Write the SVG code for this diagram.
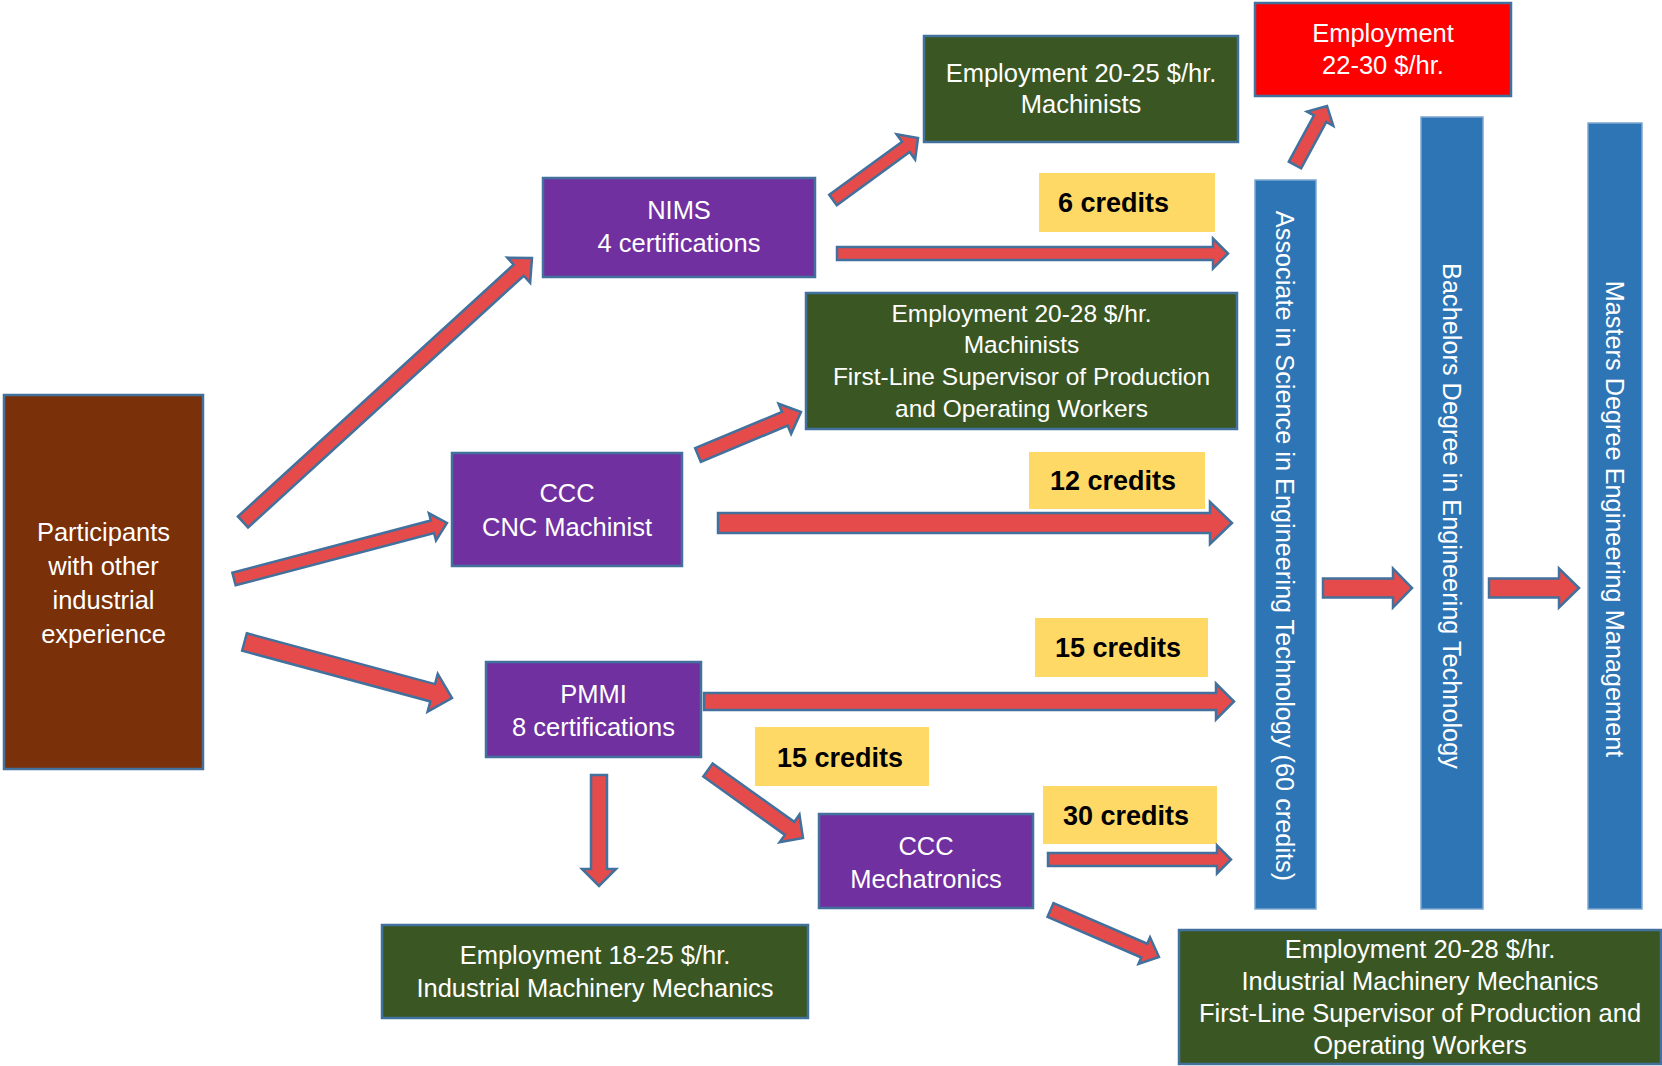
<svg xmlns="http://www.w3.org/2000/svg" width="1662" height="1066" viewBox="0 0 1662 1066">
<style>
  .box{stroke:#41719C;stroke-width:2.5}
  .brown{fill:#7A3008}
  .purple{fill:#7030A0}
  .green{fill:#3A5723}
  .red{fill:#FF0000}
  .bar{fill:#2E75B6;stroke:#7FA6CF;stroke-width:1.5}
  .label{fill:#FFD966}
  .t{font-family:"Liberation Sans",Arial,sans-serif;font-size:25.5px;fill:#FFFFFF;text-anchor:middle}
  .s{font-size:24.5px}
  .v{font-size:25.3px}
  .b{font-family:"Liberation Sans",Arial,sans-serif;font-size:27px;font-weight:bold;fill:#000000}
  .arrow{fill:#E64B4B;stroke:#41719C;stroke-width:2.5;stroke-linejoin:miter}
</style>
<rect width="1662" height="1066" fill="#FFFFFF"/>

<g id="participants">
  <rect class="box brown" x="4" y="395" width="199" height="374"/>
  <text class="t" x="103.5" y="541">Participants</text>
  <text class="t" x="103.5" y="575">with other</text>
  <text class="t" x="103.5" y="609">industrial</text>
  <text class="t" x="103.5" y="643">experience</text>
</g>

<g id="nims">
  <rect class="box purple" x="543" y="178" width="272" height="99"/>
  <text class="t" x="679" y="219">NIMS</text>
  <text class="t" x="679" y="252">4 certifications</text>
</g>

<g id="ccc-cnc">
  <rect class="box purple" x="452" y="453" width="230" height="113"/>
  <text class="t" x="567" y="502">CCC</text>
  <text class="t" x="567" y="536">CNC Machinist</text>
</g>

<g id="pmmi">
  <rect class="box purple" x="486" y="662" width="215" height="95"/>
  <text class="t" x="593.5" y="703">PMMI</text>
  <text class="t" x="593.5" y="736">8 certifications</text>
</g>

<g id="ccc-mechatronics">
  <rect class="box purple" x="819" y="814" width="214" height="94"/>
  <text class="t" x="926" y="855">CCC</text>
  <text class="t" x="926" y="888">Mechatronics</text>
</g>

<g id="emp-machinists">
  <rect class="box green" x="924" y="36" width="314" height="106"/>
  <text class="t" x="1081" y="82">Employment 20-25 $/hr.</text>
  <text class="t" x="1081" y="113">Machinists</text>
</g>

<g id="emp-machinists-supervisor">
  <rect class="box green" x="806" y="293" width="431" height="136"/>
  <text class="t s" x="1021.5" y="322">Employment 20-28 $/hr.</text>
  <text class="t s" x="1021.5" y="353">Machinists</text>
  <text class="t s" x="1021.5" y="385">First-Line Supervisor of Production</text>
  <text class="t s" x="1021.5" y="417">and Operating Workers</text>
</g>

<g id="emp-mechanics">
  <rect class="box green" x="382" y="925" width="426" height="93"/>
  <text class="t" x="595" y="964">Employment 18-25 $/hr.</text>
  <text class="t" x="595" y="997">Industrial Machinery Mechanics</text>
</g>

<g id="emp-mechanics-supervisor">
  <rect class="box green" x="1179" y="930" width="482" height="134"/>
  <text class="t" x="1420" y="958">Employment 20-28 $/hr.</text>
  <text class="t" x="1420" y="990">Industrial Machinery Mechanics</text>
  <text class="t" x="1420" y="1022">First-Line Supervisor of Production and</text>
  <text class="t" x="1420" y="1054">Operating Workers</text>
</g>

<g id="emp-associate">
  <rect class="box red" x="1255" y="3" width="256" height="93"/>
  <text class="t" x="1383" y="42">Employment</text>
  <text class="t" x="1383" y="74">22-30 $/hr.</text>
</g>

<g id="associate">
  <rect class="bar" x="1255" y="180" width="61" height="729"/>
  <text class="t v" transform="translate(1276,546) rotate(90)">Associate in Science in Engineering Technology (60 credits)</text>
</g>

<g id="bachelors">
  <rect class="bar" x="1421" y="117" width="62" height="792"/>
  <text class="t v" transform="translate(1443,516) rotate(90)">Bachelors Degree in Engineering Technology</text>
</g>

<g id="masters">
  <rect class="bar" x="1588" y="123" width="54" height="786"/>
  <text class="t v" transform="translate(1606,519) rotate(90)">Masters Degree Engineering Management</text>
</g>

<g id="label-6">
  <rect class="label" x="1039" y="173" width="176" height="59"/>
  <text class="b" x="1058" y="212">6 credits</text>
</g>
<g id="label-12">
  <rect class="label" x="1029" y="452" width="176" height="57"/>
  <text class="b" x="1050" y="490">12 credits</text>
</g>
<g id="label-15a">
  <rect class="label" x="1035" y="618" width="173" height="59"/>
  <text class="b" x="1055" y="657">15 credits</text>
</g>
<g id="label-15b">
  <rect class="label" x="755" y="727" width="174" height="59"/>
  <text class="b" x="777" y="767">15 credits</text>
</g>
<g id="label-30">
  <rect class="label" x="1043" y="786" width="174" height="58"/>
  <text class="b" x="1063" y="825">30 credits</text>
</g>

<g id="connectors">
  <polygon class="arrow" transform="translate(243,522) rotate(-42.41)" points="0,-7.5 373.4,-7.5 373.4,-17 391.4,0 373.4,17 373.4,7.5 0,7.5"/>
  <polygon class="arrow" transform="translate(234,579) rotate(-14.73)" points="0,-6.5 205.2,-6.5 205.2,-14 220.2,0 205.2,14 205.2,6.5 0,6.5"/>
  <polygon class="arrow" transform="translate(244.5,642) rotate(15.10)" points="0,-9 194.9,-9 194.9,-19.5 214.9,0 194.9,19.5 194.9,9 0,9"/>
  <polygon class="arrow" transform="translate(833,200) rotate(-36.1)" points="0,-6.4 90.2,-6.4 90.2,-15.7 105.2,0 90.2,15.7 90.2,6.4 0,6.4"/>
  <polygon class="arrow" transform="translate(837,253.5)" points="0,-6.5 376,-6.5 376,-15 391,0 376,15 376,6.5 0,6.5"/>
  <polygon class="arrow" transform="translate(698,455) rotate(-22.66)" points="0,-7.4 94.1,-7.4 94.1,-16.3 111.6,0 94.1,16.3 94.1,7.4 0,7.4"/>
  <polygon class="arrow" transform="translate(718,523)" points="0,-10 492,-10 492,-21 514,0 492,21 492,10 0,10"/>
  <polygon class="arrow" transform="translate(704,701.5)" points="0,-8.5 512,-8.5 512,-18 530,0 512,18 512,8.5 0,8.5"/>
  <polygon class="arrow" transform="translate(708,770) rotate(35.6)" points="0,-8 100.3,-8 100.3,-17 116.8,0 100.3,17 100.3,8 0,8"/>
  <polygon class="arrow" transform="translate(599,775) rotate(90)" points="0,-8 94,-8 94,-17 111,0 94,17 94,8 0,8"/>
  <polygon class="arrow" transform="translate(1048,859.5)" points="0,-6.5 169,-6.5 169,-14 183,0 169,14 169,6.5 0,6.5"/>
  <polygon class="arrow" transform="translate(1050.5,910) rotate(23.42)" points="0,-7.5 102.2,-7.5 102.2,-14.5 118.2,0 102.2,14.5 102.2,7.5 0,7.5"/>
  <polygon class="arrow" transform="translate(1295,165) rotate(-61.5)" points="0,-7 52.7,-7 52.7,-15 67.1,0 52.7,15 52.7,7 0,7"/>
  <polygon class="arrow" transform="translate(1323,588)" points="0,-9.5 70,-9.5 70,-19.5 89,0 70,19.5 70,9.5 0,9.5"/>
  <polygon class="arrow" transform="translate(1489,588)" points="0,-9.5 70,-9.5 70,-19.5 90,0 70,19.5 70,9.5 0,9.5"/>
</g>
</svg>
